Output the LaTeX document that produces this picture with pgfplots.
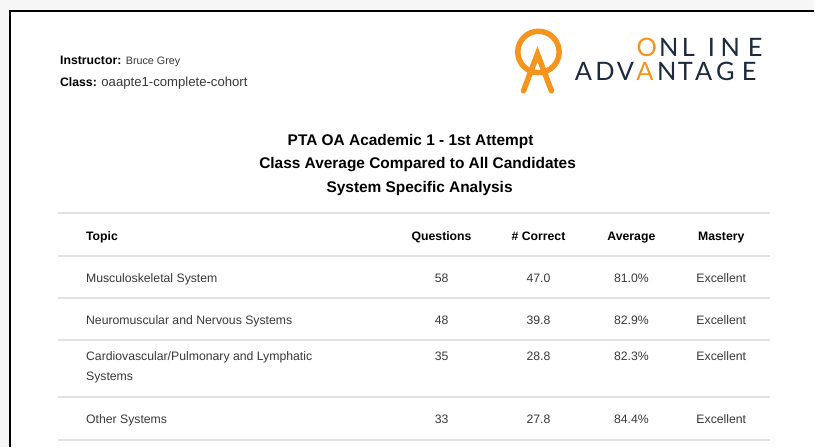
\documentclass[border=0pt]{standalone}
\usepackage{pgfplots}
\pgfplotsset{compat=1.18}
\usepackage{pgfplotstable}
\usepackage{fontspec}
\setmainfont{Liberation Sans}
\newfontfamily\logofont{Lato}
\definecolor{oaorange}{HTML}{F7941D}
\definecolor{oanavy}{HTML}{1E2B3C}
\definecolor{rulec}{HTML}{E2E2E2}
\definecolor{bodyc}{HTML}{3A3A3A}
\definecolor{bgc}{HTML}{F6F6F6}

% y = baseline of the row (pixels from the top)
\pgfplotstableread{
y   q   c     a     m
283 58  47.0  81.0  Excellent
325 48  39.8  82.9  Excellent
361 35  28.8  82.3  Excellent
424 33  27.8  84.4  Excellent
}\results

\pgfplotsset{
  cell/.style={draw=none, mark=none, nodes near coords, point meta=explicit symbolic,
    every node near coord/.style={anchor=base, inner sep=0pt,
      font=\fontsize{12.3}{14}\selectfont, text=bodyc}},
}

\begin{document}
\begin{tikzpicture}
\begin{axis}[scale only axis, width=815bp, height=447bp,
  xmin=0, xmax=815, ymin=0, ymax=447, y dir=reverse,
  hide axis, clip=false]

% page background and frame
\fill[bgc] (axis cs:0,0) rectangle (axis cs:815,447);
\fill[white] (axis cs:9,10) rectangle (axis cs:815,447);
\draw[black, line width=1.6bp] (axis cs:9.8,447) -- (axis cs:9.8,10.8) -- (axis cs:815,10.8);

% header info
\node[anchor=base west, inner sep=0pt, font=\fontsize{12.3}{14}\selectfont] at (axis cs:60,65)
  {\textbf{Instructor:} {\fontsize{10.8}{13}\selectfont\color{bodyc} Bruce Grey}};
\node[anchor=base west, inner sep=0pt, font=\fontsize{12.3}{14}\selectfont] at (axis cs:60,86.5)
  {\textbf{Class:} {\fontsize{13.2}{15}\selectfont\color{bodyc} oaapte1-complete-cohort}};

% logo
\draw[oaorange, line width=5.5bp] (axis cs:539,52) circle[radius=20.7bp];
\draw[oaorange, line width=5.5bp, line join=miter, line cap=round] (axis cs:524,91) -- (axis cs:538,54) -- (axis cs:552,91);
\begin{scope}[every node/.style={anchor=base, inner sep=0pt, font=\logofont\fontsize{25.5}{28}\selectfont, text=oanavy}]
\node[text=oaorange] at (axis cs:647.5,57) {O};
\node at (axis cs:669.5,57) {N};
\node at (axis cs:689,57) {L};
\node at (axis cs:712,57) {I};
\node at (axis cs:731,57) {N};
\node at (axis cs:756,57) {E};
\node at (axis cs:584,81) {A};
\node at (axis cs:605.5,81) {D};
\node at (axis cs:626,81) {V};
\node[text=oaorange] at (axis cs:645.5,81) {A};
\node at (axis cs:667.5,81) {N};
\node at (axis cs:686,81) {T};
\node at (axis cs:704.5,81) {A};
\node at (axis cs:726,81) {G};
\node at (axis cs:750,81) {E};
\end{scope}

% titles
\begin{scope}[every node/.style={anchor=base, inner sep=0pt, font=\bfseries\fontsize{15.5}{18}\selectfont}]
\node at (axis cs:411,145.5) {PTA OA Academic 1 - 1st Attempt};
\node at (axis cs:418,168.5) {Class Average Compared to All Candidates};
\node at (axis cs:420,192.5) {System Specific Analysis};
\end{scope}

% table rules
\pgfplotsinvokeforeach{213,256,298,340,397,440}{
  \draw[rulec, line width=2bp] (axis cs:58,#1) -- (axis cs:771,#1);
}

% column headers
\begin{scope}[every node/.style={anchor=base, inner sep=0pt, font=\bfseries\fontsize{12.3}{14}\selectfont}]
\node[anchor=base west] at (axis cs:86,241) {Topic};
\node at (axis cs:442,241) {Questions};
\node at (axis cs:539,241) {\# Correct};
\node at (axis cs:632,241) {Average};
\node at (axis cs:722,241) {Mastery};
\end{scope}

% topic names
\begin{scope}[every node/.style={anchor=base west, inner sep=0pt, font=\fontsize{12.3}{14}\selectfont, text=bodyc}]
\node at (axis cs:86,283) {Musculoskeletal System};
\node at (axis cs:86,325) {Neuromuscular and Nervous Systems};
\node at (axis cs:86,361) {Cardiovascular/Pulmonary and Lymphatic};
\node at (axis cs:86,381) {Systems};
\node at (axis cs:86,424) {Other Systems};
\end{scope}

% values
\addplot[cell] table[x expr=442, y=y, meta=q] {\results};
\addplot[cell] table[x expr=539, y=y, meta=c] {\results};
\addplot[cell, nodes near coords={\pgfplotspointmeta\%}] table[x expr=632, y=y, meta=a] {\results};
\addplot[cell] table[x expr=722, y=y, meta=m] {\results};
\end{axis}
\end{tikzpicture}
\end{document}
